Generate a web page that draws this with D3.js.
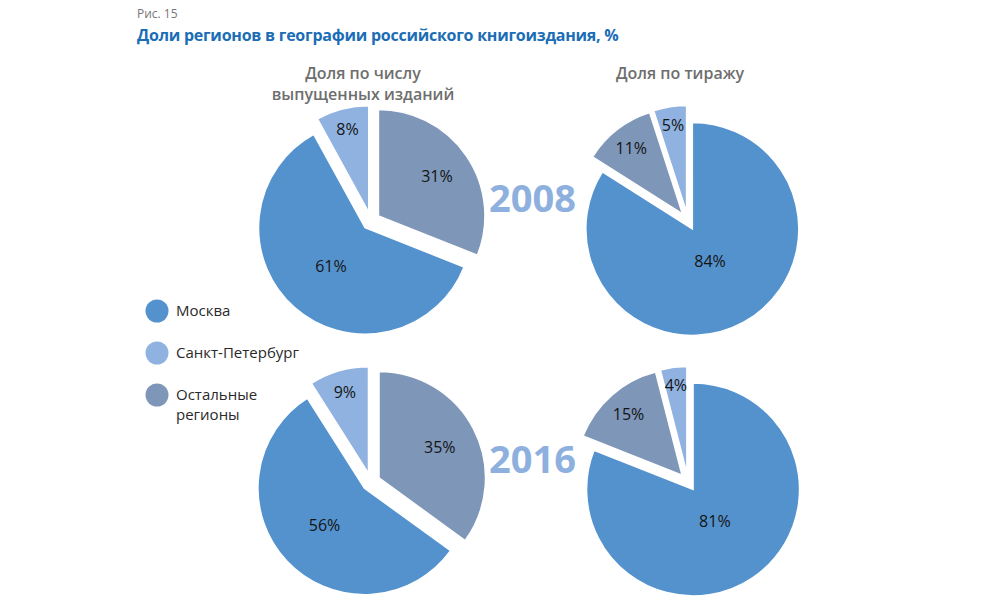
<!DOCTYPE html>
<html>
<head>
<meta charset="utf-8">
<script src="https://cdn.jsdelivr.net/npm/d3@7"></script>
<style>
  body { margin: 0; background: #fff; }
  svg { display: block; font-family: "Open Sans", sans-serif; }
</style>
</head>
<body>
<svg width="1000" height="605"></svg>
<script>
// data
const categories = ["Москва", "Санкт-Петербург", "Остальные регионы"];
const years = ["2008", "2016"];
const measures = ["Доля по числу выпущенных изданий", "Доля по тиражу"];
const editionsShare = [[61, 8, 31], [56, 9, 35]];      // per year: Москва, СПб, остальные
const circulationShare = [[84, 5, 11], [81, 4, 15]];
const editionsOrder = [2, 0, 1];      // slice order clockwise from 12 o'clock
const circulationOrder = [0, 2, 1];

const svg = d3.select("svg");

const color = d3.scaleOrdinal()
  .domain(categories)
  .range(["#5492ce", "#8fb2e0", "#7e96b8"]);

const x = d3.scalePoint().domain(measures).range([371, 688]);
const y = d3.scalePoint().domain(years).range([221, 482]);

const radius = 106.5;
const explode = 9;

// title
svg.append("text")
  .attr("x", 137).attr("y", 18)
  .attr("font-size", 12).attr("fill", "#777")
  .text("Рис. 15");
svg.append("text")
  .attr("x", 137).attr("y", 41)
  .attr("font-size", 16).attr("font-weight", 700).attr("fill", "#1b6db6")
  .attr("letter-spacing", -0.25)
  .text("Доли регионов в географии российского книгоиздания, %");

// column headers
const headerLines = [["Доля по числу", "выпущенных изданий"], ["Доля по тиражу"]];
measures.forEach((m, i) => {
  const t = svg.append("text")
    .attr("text-anchor", "middle")
    .attr("font-size", 16).attr("font-weight", 600).attr("fill", "#6e6e6e");
  headerLines[i].forEach((line, j) => {
    t.append("tspan").attr("x", x(m) - 8).attr("y", 79 + j * 21).text(line);
  });
});

// year labels
years.forEach(yr => {
  svg.append("text")
    .attr("x", (x(measures[0]) + x(measures[1])) / 2 + 3)
    .attr("y", y(yr) - 9)
    .attr("text-anchor", "middle")
    .attr("font-size", 38).attr("font-weight", 700).attr("fill", "#8db0de")
    .text(yr);
});

const arc = d3.arc().innerRadius(0).outerRadius(radius);

function drawPie(cx, cy, values, order) {
  const items = order.map(k => ({ cat: categories[k], value: values[k] }));
  const arcs = d3.pie().sort(null).value(d => d.value)(items);
  const g = svg.append("g").attr("transform", `translate(${cx},${cy})`);

  const slice = g.selectAll("g.slice")
    .data(arcs)
    .enter()
    .append("g")
    .attr("class", "slice")
    .attr("transform", d => {
      const mid = (d.startAngle + d.endAngle) / 2;
      return `translate(${explode * Math.sin(mid)},${-explode * Math.cos(mid)})`;
    });

  slice.append("path")
    .attr("d", arc)
    .attr("fill", d => color(d.data.cat))
    .attr("stroke", "#fff")
    .attr("stroke-width", 1.5);

  slice.append("text")
    .attr("transform", d => {
      const mid = (d.startAngle + d.endAngle) / 2;
      const rl = radius * (0.85 - 0.6 * d.data.value / 100);
      return `translate(${rl * Math.sin(mid)},${-rl * Math.cos(mid)})`;
    })
    .attr("text-anchor", "middle")
    .attr("dy", "0.35em")
    .attr("font-size", 16)
    .attr("fill", "#141414")
    .text(d => d.data.value + "%");
}

years.forEach((yr, i) => {
  drawPie(x(measures[0]), y(yr), editionsShare[i], editionsOrder);
  drawPie(x(measures[1]), y(yr), circulationShare[i], circulationOrder);
});

// legend
const legendLines = [["Москва"], ["Санкт-Петербург"], ["Остальные", "регионы"]];
const legend = svg.append("g");
categories.forEach((c, i) => {
  const ly = 311 + i * 42;
  legend.append("circle")
    .attr("cx", 157).attr("cy", ly).attr("r", 11.5)
    .attr("fill", color(c));
  const t = legend.append("text")
    .attr("font-size", 15).attr("fill", "#2a2a2a");
  legendLines[i].forEach((line, j) => {
    t.append("tspan").attr("x", 176).attr("y", ly + 5 + j * 20).text(line);
  });
});
</script>
</body>
</html>
